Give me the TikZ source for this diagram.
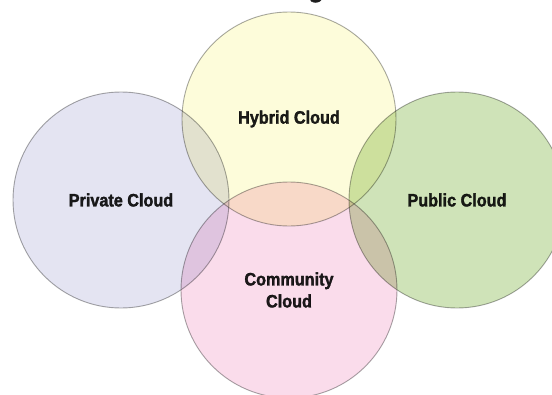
\documentclass[tikz,border=0pt]{standalone}
\usepackage{fontspec}
\setmainfont{Liberation Sans}
\newfontfamily\labelfont{Liberation Sans}[FakeStretch=0.9, BoldFeatures={FakeBold=1.6}]
\definecolor{privatefill}{HTML}{E4E4F2}
\definecolor{hybridfill}{HTML}{FDFCDA}
\definecolor{publicfill}{HTML}{CFE3B8}
\definecolor{communityfill}{HTML}{FADCEB}
\definecolor{linegray}{HTML}{A8A8A8}
\definecolor{labeltext}{HTML}{1E1E1E}
\begin{document}
\begin{tikzpicture}[x=1pt,y=-1pt,
  cloud/.style={circle, draw=linegray, line width=0.9pt, inner sep=0pt,
    minimum size=#1, align=center, text=labeltext,
    font=\labelfont\bfseries\fontsize{18}{22}\selectfont}]
\useasboundingbox (0,0) rectangle (552,394);
\fill[white] (0,0) rectangle (552,394);
\begin{scope}
  \clip (0,0) rectangle (552,394);
  \node[anchor=base, text=labeltext, inner sep=0pt, font=\labelfont\bfseries\fontsize{30}{30}\selectfont] (title) at (316,-4) {g};
  \begin{scope}[blend group=multiply]
    \node[cloud=216pt, fill=privatefill] (private) at (121,200) {Private Cloud};
    \node[cloud=214pt, fill=hybridfill] (hybrid) at (289,119) {Hybrid Cloud};
    \node[cloud=216pt, fill=publicfill] (public) at (457,200) {Public Cloud};
    \node[cloud=216pt, fill=communityfill] (community) at (289,290) {Community\\Cloud};
  \end{scope}
\end{scope}
\end{tikzpicture}
\end{document}
